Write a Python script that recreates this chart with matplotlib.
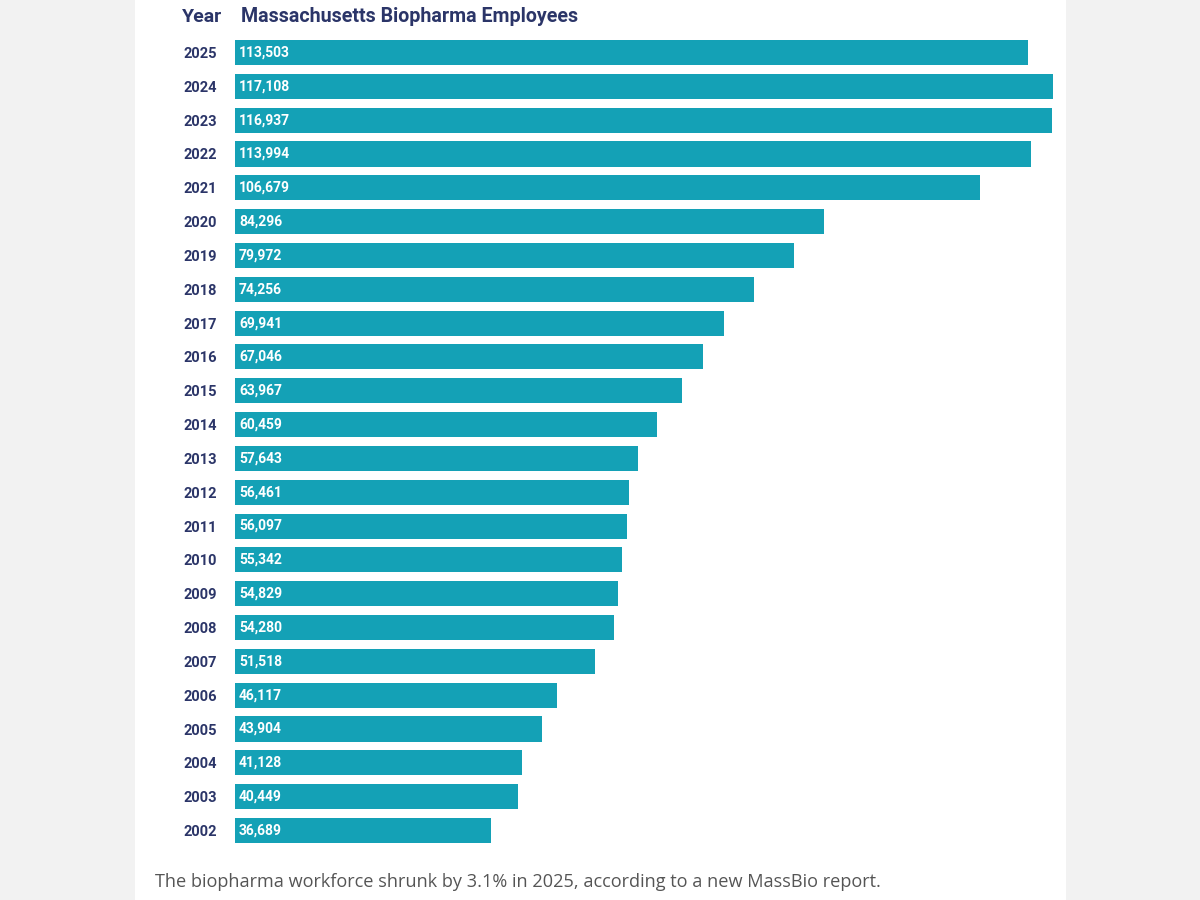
import matplotlib
matplotlib.use("Agg")
import matplotlib.pyplot as plt
from matplotlib.patches import Rectangle

years = [2025, 2024, 2023, 2022, 2021, 2020, 2019, 2018, 2017, 2016, 2015, 2014,
         2013, 2012, 2011, 2010, 2009, 2008, 2007, 2006, 2005, 2004, 2003, 2002]
employees = [113503, 117108, 116937, 113994, 106679, 84296, 79972, 74256, 69941,
             67046, 63967, 60459, 57643, 56461, 56097, 55342, 54829, 54280, 51518,
             46117, 43904, 41128, 40449, 36689]
title = "Massachusetts Biopharma Employees"
year_header = "Year"
caption = "The biopharma workforce shrunk by 3.1% in 2025, according to a new MassBio report."

W, H = 1200, 900
fig = plt.figure(figsize=(12, 9), dpi=100)
fig.patch.set_facecolor("#f2f2f2")
# white panel
panel = Rectangle((135 / W, 0), (1066 - 135) / W, 1, transform=fig.transFigure,
                  facecolor="white", edgecolor="none", zorder=-10)
fig.add_artist(panel)

navy = "#2b3568"
teal = "#14a1b6"

top_px, bot_px = 35.6, 847.4
ax = fig.add_axes([235 / W, 1 - bot_px / H, (1053 - 235) / W, (bot_px - top_px) / H])
ax.set_zorder(5)
ax.set_facecolor("none")
ypos = list(range(len(years)))
ax.barh(ypos, employees, height=0.74, color=teal, edgecolor="none")
ax.set_xlim(0, max(employees))
ax.set_ylim(len(years) - 0.5, -0.5)
for s in ax.spines.values():
    s.set_visible(False)
ax.set_xticks([])
ax.set_yticks(ypos)
ax.set_yticklabels([str(y) for y in years], fontfamily="Roboto", fontweight="bold",
                   fontsize=10.5, color=navy)
ax.tick_params(axis="y", length=0, pad=13)

for y, v in zip(ypos, employees):
    ax.text(max(employees) * 0.005, y, f"{v:,}", va="center", ha="left",
            color="white", fontfamily="Roboto", fontweight="bold", fontsize=10)

fig.text(182 / W, 1 - 17 / H, year_header, ha="left", va="center", color=navy,
         fontfamily="Roboto", fontweight="bold", fontsize=14)
fig.text(241 / W, 1 - 17 / H, title, ha="left", va="center", color=navy,
         fontfamily="Roboto", fontweight="bold", fontsize=14.1)
fig.text(155 / W, 1 - 882 / H, caption, ha="left", va="center", color="#555555",
         fontfamily="Open Sans", fontsize=13.1)

fig.savefig("out.png", dpi=100, facecolor=fig.get_facecolor())
